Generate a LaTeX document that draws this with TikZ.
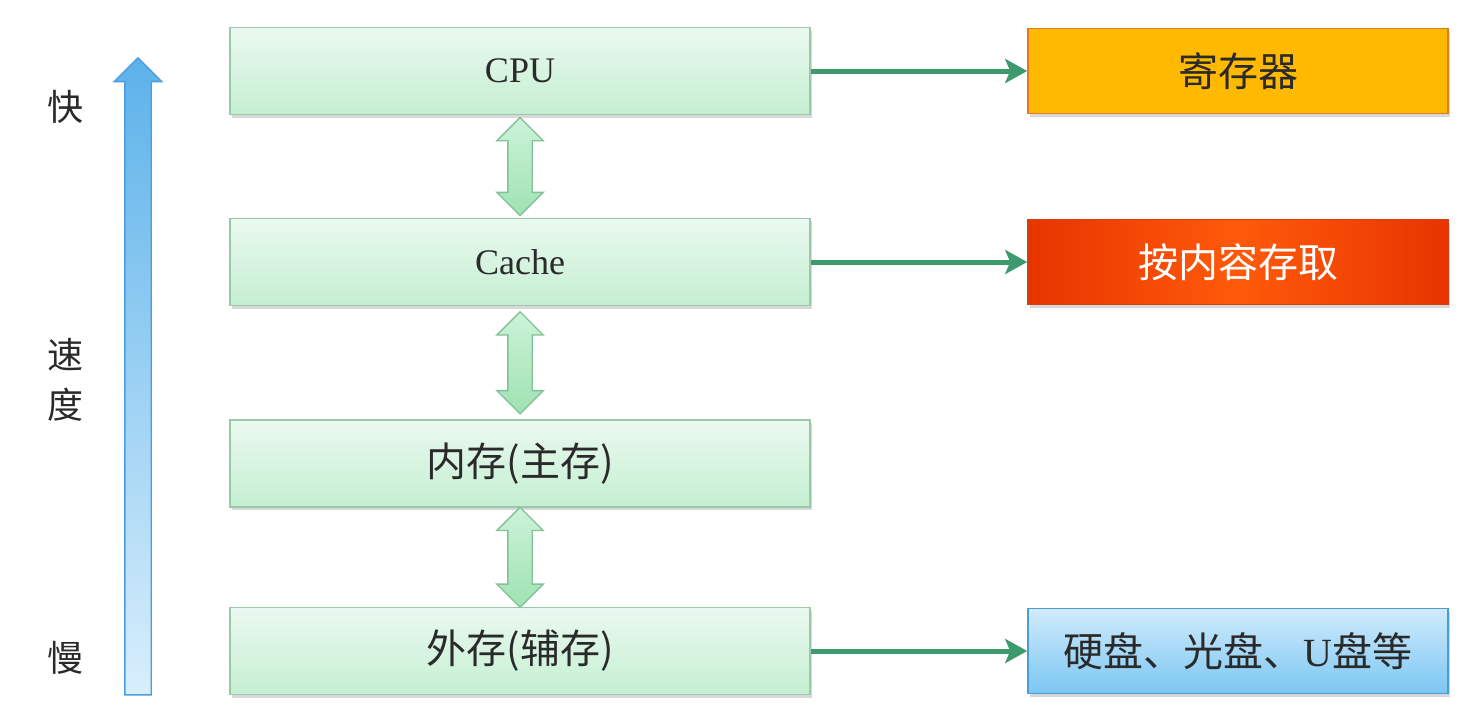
\documentclass[tikz,border=0pt]{standalone}
\usepackage{fontspec}
\setmainfont{Liberation Serif}
\newfontfamily\cjk{Noto Sans CJK SC}
\usetikzlibrary{shapes.arrows,arrows.meta,shadows,calc}
\definecolor{txt}{HTML}{2A2A2A}
\definecolor{lgtop}{HTML}{EBF9F0}
\definecolor{lgbot}{HTML}{C4EFD1}
\definecolor{lgborder}{HTML}{9CC8AA}
\definecolor{conncol}{HTML}{3C9A6E}
\definecolor{dbltop}{HTML}{CCF3D8}
\definecolor{dblbot}{HTML}{9FE2B3}
\definecolor{dblborder}{HTML}{84C098}
\definecolor{regfill}{HTML}{FFB900}
\definecolor{regborder}{HTML}{E07A20}
\definecolor{redmid}{HTML}{FF5A0A}
\definecolor{redside}{HTML}{E83400}
\definecolor{redborder}{HTML}{D04010}
\definecolor{bluetop}{HTML}{D0EBFC}
\definecolor{bluebot}{HTML}{7CC6F2}
\definecolor{blueborder}{HTML}{4A9ED8}
\definecolor{speedtop}{HTML}{5CB2EA}
\definecolor{speedbot}{HTML}{D8EEFC}
\definecolor{speedborder}{HTML}{4A9EE0}
\tikzset{
  level/.style={draw=lgborder, line width=0.8pt, top color=lgtop, bottom color=lgbot,
    minimum width=290pt, minimum height=43.5pt, text=txt,
    drop shadow={shadow xshift=1pt, shadow yshift=-1.5pt, opacity=0.3, fill=gray}},
  sidebox/.style={line width=0.8pt, minimum width=210pt, minimum height=42.5pt, text=txt,
    drop shadow={shadow xshift=1pt, shadow yshift=-1.5pt, opacity=0.3, fill=gray}},
  conn/.style={draw=conncol, line width=2.5pt, -{Stealth[length=11pt,width=12pt,inset=2.5pt]}},
  dbl/.style={double arrow, shape border rotate=90, draw=dblborder, line width=0.7pt,
    top color=dbltop, bottom color=dblbot, minimum width=23pt,
    double arrow head extend=5.5pt, inner sep=5.75pt},
  side/.style={text=txt, font=\cjk\fontsize{18pt}{20pt}\selectfont},
  cjkt/.style={font=\cjk\fontsize{20pt}{24pt}\selectfont},
  latt/.style={font=\fontsize{18pt}{22pt}\selectfont}
}
\begin{document}
\begin{tikzpicture}[x=0.5pt,y=-0.5pt]
\useasboundingbox (0,0) rectangle (1466,724);
\fill[white] (0,0) rectangle (1466,724);
% speed arrow
\node[single arrow, shape border rotate=90, draw=speedborder, line width=0.7pt,
  top color=speedtop, bottom color=speedbot, minimum width=23pt,
  single arrow head extend=5.25pt, minimum height=318.5pt, inner sep=6.25pt] (speed) at (138,383) {};
\node[side] (fast) at (65,107) {快};
\node[side] (su) at (65,355) {速};
\node[side] (du) at (65,405) {度};
\node[side] (slow) at (65,658) {慢};
% levels
\node[level, latt] (cpu) at (520,71) {CPU};
\node[level, latt] (cache) at (520,262) {Cache};
\node[level, cjkt] (mem) at (520,463.5) {内存(主存)};
\node[level, cjkt] (ext) at (520,651) {外存(辅存)};
% double arrows
\node[dbl, minimum height=49pt] (d1) at ($(cpu.south)!0.5!(cache.north)$) {};
\node[dbl, minimum height=51pt] (d2) at ($(cache.south)!0.5!(mem.north)$) {};
\node[dbl, minimum height=50pt] (d3) at ($(mem.south)!0.5!(ext.north)$) {};
% side boxes
\node[sidebox, draw=regborder, fill=regfill, cjkt] (reg) at (1238,71) {寄存器};
\node[sidebox, draw=redborder, left color=redside, right color=redside, middle color=redmid,
  cjkt, text=white] (cam) at (1238,262) {按内容存取};
\node[sidebox, draw=blueborder, top color=bluetop, bottom color=bluebot, cjkt] (disk) at (1238,651)
  {硬盘、光盘、{\fontspec{Liberation Serif}U}盘等};
% connectors
\draw[conn] (cpu.east) -- (reg.west);
\draw[conn] (cache.east) -- (cam.west);
\draw[conn] (ext.east) -- (disk.west);
\end{tikzpicture}
\end{document}
